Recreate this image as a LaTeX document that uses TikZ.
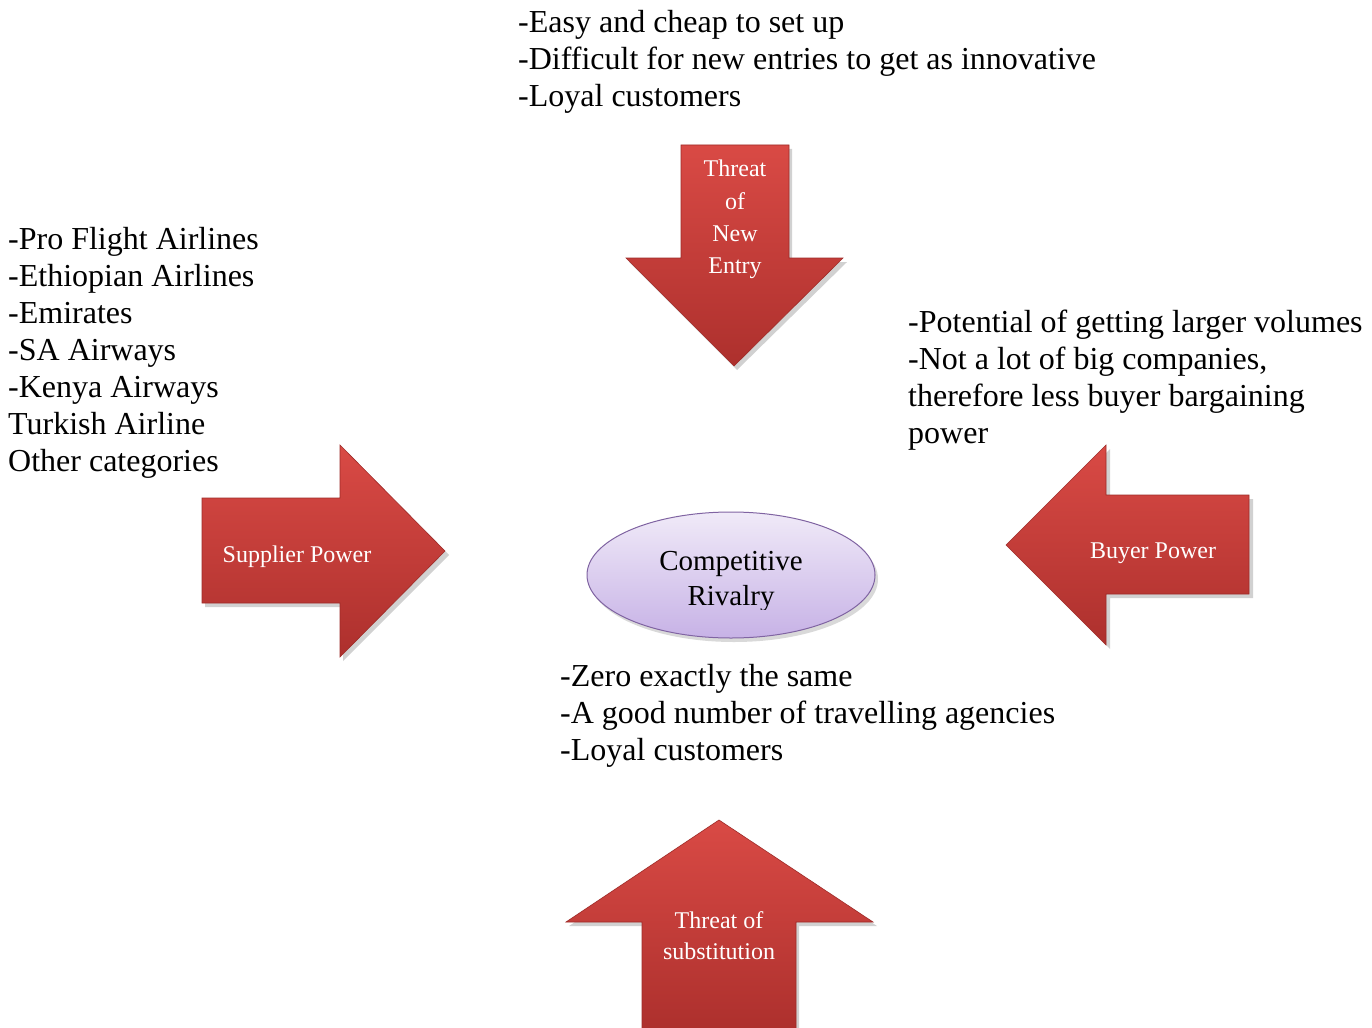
\documentclass[tikz,border=0pt]{standalone}
\usepackage{fontspec}
\setmainfont{Liberation Serif}
\usetikzlibrary{shapes.geometric}
\definecolor{arrtop}{HTML}{D94A45}
\definecolor{arrbot}{HTML}{AD302D}
\definecolor{arredge}{HTML}{9E2B28}
\definecolor{elltop}{HTML}{F0EAF8}
\definecolor{ellbot}{HTML}{C7B2E6}
\definecolor{elledge}{HTML}{8064A2}
\tikzset{
  arrowshape/.style={top color=arrtop, bottom color=arrbot, draw=arredge, line width=0.6pt, line join=miter},
  arrowshadow/.style={fill=black, opacity=0.18},
  bodytext/.style={font=\fontsize{32}{37}\selectfont, anchor=base west, inner sep=0pt, align=left, text=black},
  arrowtext/.style={font=\fontsize{24}{31}\selectfont, text=white, inner sep=0pt, anchor=base, align=center},
  elltext/.style={font=\fontsize{29}{35}\selectfont, text=black, inner sep=0pt, anchor=base, align=center}
}
\begin{document}
\begin{tikzpicture}[x=1pt,y=-1pt]
\useasboundingbox (0,0) rectangle (1372,1027);
\fill[white] (0,0) rectangle (1372,1027);

% ---- Threat of New Entry (down arrow)
\fill[arrowshadow] (684,149) -- (792,149) -- (792,262) -- (847,262) -- (737,370) -- (629,262) -- (684,262) -- cycle;
\path[arrowshape] (681,145) -- (789,145) -- (789,258) -- (843,258) -- (734,366) -- (626,258) -- (681,258) -- cycle;
\node[arrowtext] (tn1) at (735,177) {Threat};
\node[arrowtext] (tn2) at (735,209) {of};
\node[arrowtext] (tn3) at (735,241) {New};
\node[arrowtext] (tn4) at (735,273) {Entry};

% ---- Supplier Power (right arrow)
\fill[arrowshadow] (205,502) -- (343,502) -- (343,449) -- (449,555) -- (343,661) -- (343,607) -- (205,607) -- cycle;
\path[arrowshape] (202,498) -- (340,498) -- (340,445) -- (445,551) -- (340,657) -- (340,603) -- (202,603) -- cycle;
\node[arrowtext] (sp) at (297,562) {Supplier Power};

% ---- Buyer Power (left arrow)
\fill[arrowshadow] (1253,499) -- (1110,499) -- (1110,449) -- (1010,549) -- (1110,649) -- (1110,598) -- (1253,598) -- cycle;
\path[arrowshape] (1249,495) -- (1106,495) -- (1106,445) -- (1006,545) -- (1106,645) -- (1106,594) -- (1249,594) -- cycle;
\node[arrowtext] (bp) at (1153,558) {Buyer Power};

% ---- Threat of substitution (up arrow)
\fill[arrowshadow] (722,824) -- (877,926) -- (799,926) -- (799,1030) -- (645,1030) -- (645,926) -- (569,926) -- cycle;
\path[arrowshape] (719,820) -- (873,922) -- (796,922) -- (796,1030) -- (642,1030) -- (642,922) -- (566,922) -- cycle;
\node[arrowtext] (ts1) at (719,928) {Threat of};
\node[arrowtext] (ts2) at (719,959) {substitution};

% ---- Competitive Rivalry (ellipse)
\fill[black, opacity=0.15] (734,579) ellipse [x radius=144, y radius=63];
\path[top color=elltop, bottom color=ellbot, draw=elledge, line width=1pt] (731,575) ellipse [x radius=144, y radius=63];
\begin{scope}
\clip (560,520) rectangle (900,609);
\node[elltext] (cr1) at (731,570) {Competitive};
\node[elltext] (cr2) at (731,605) {Rivalry};
\end{scope}

% ---- text blocks (anchor = baseline of last line)
\node[bodytext] (newentry) at (518,107) {-Easy and cheap to set up\\-Difficult for new entries to get as innovative\\-Loyal customers};
\node[bodytext] (supplier) at (8,471) {-Pro Flight Airlines\\-Ethiopian Airlines\\-Emirates\\-SA Airways\\-Kenya Airways\\Turkish Airline\\Other categories};
\node[bodytext] (buyer) at (908,443) {-Potential of getting larger volumes\\-Not a lot of big companies,\\therefore less buyer bargaining\\power};
\node[bodytext] (rivalry) at (560,760) {-Zero exactly the same\\-A good number of travelling agencies\\-Loyal customers};
\end{tikzpicture}
\end{document}
